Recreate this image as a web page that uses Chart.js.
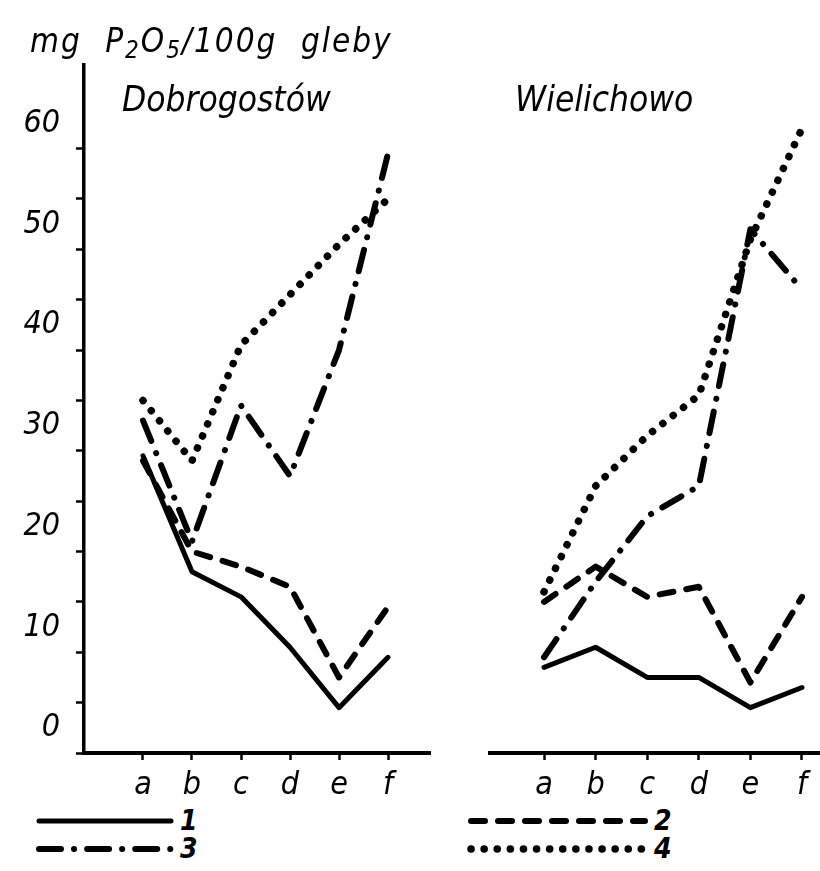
<!DOCTYPE html>
<html lang="pl">
<head>
  <meta charset="UTF-8">
  <title>P2O5 - Dobrogostów, Wielichowo</title>
  <script src="https://cdn.jsdelivr.net/npm/chart.js"></script>
  <style>
    body { margin: 0; background: #fff; }
    .page {
      position: relative;
      width: 820px;
      height: 871px;
      overflow: hidden;
      font-family: 'DejaVu Sans Condensed', 'DejaVu Sans', sans-serif;
      font-style: italic;
      color: #000;
    }
    .page canvas { position: absolute; top: 0; }
    #leftChart { left: 0; }
    #rightChart { left: 440px; }
    .txt { position: absolute; white-space: nowrap; line-height: 1; }
    .unit { left: 30px; top: 24px; font-size: 33px; word-spacing: 12px; letter-spacing: 2px; }
    .unit sub { font-size: 24px; vertical-align: -6px; }
    .panel { top: 82px; font-size: 35px; }
    .legend { position: absolute; display: flex; align-items: center; font-size: 28px; font-weight: bold; line-height: 1; }
    .legend svg { display: block; margin-right: 4px; }
  </style>
</head>
<body>
<div class="page">
  <canvas id="leftChart" width="440" height="800"></canvas>
  <canvas id="rightChart" width="380" height="800"></canvas>

  <div class="txt unit">mg P<sub>2</sub>O<sub>5</sub>/100g gleby</div>
  <div class="txt panel" style="left:122px">Dobrogostów</div>
  <div class="txt panel" style="left:515px">Wielichowo</div>

  <div id="legendBox"></div>
</div>

<script>
  // categories and tick labels
  const categories = ['a', 'b', 'c', 'd', 'e', 'f'];
  const yTickLabels = [0, 10, 20, 30, 40, 50, 60];
  const seriesNames = ['1', '2', '3', '4'];

  // Dobrogostów (mg P2O5 / 100 g gleby)
  const dobro1 = [29.5, 18, 15.5, 10.5, 4.5, 9.5];
  const dobro2 = [29, 20, 18.5, 16.5, 7.5, 14.5];
  const dobro3 = [33, 21, 34.5, 27.5, 40, 59.5];
  const dobro4 = [35, 29, 40.5, 45.5, 50.5, 55];

  // Wielichowo
  const wiel1 = [8.5, 10.5, 7.5, 7.5, 4.5, 6.5];
  const wiel2 = [15, 18.5, 15.5, 16.5, 7, 15.5];
  const wiel3 = [9.5, 17, 23.5, 26.5, 52, 46];
  const wiel4 = [16, 26.5, 31.5, 35.5, 51, 62];

  // line looks: solid, dashed, dash-dot, dotted
  const lineStyles = [
    { dash: [], width: 5 },
    { dash: [14, 13], width: 6 },
    { dash: [22, 13, 0.1, 13], width: 6 },
    { dash: [0.1, 13], width: 7.5 }
  ];

  const tickFont = { family: "'DejaVu Sans Condensed', 'DejaVu Sans', sans-serif", style: 'italic', size: 32 };

  function buildDatasets(series) {
    return series.map((vals, i) => ({
      label: seriesNames[i],
      data: vals.map((v, j) => ({ x: j + 1, y: v })),
      borderColor: '#000',
      borderWidth: lineStyles[i].width,
      borderDash: lineStyles[i].dash,
      borderCapStyle: 'round',
      borderJoinStyle: 'round',
      pointRadius: 0,
      tension: 0,
      fill: false
    }));
  }

  function xScale(min, max) {
    return {
      type: 'linear',
      min: min,
      max: max,
      afterBuildTicks: s => { s.ticks = categories.map((c, i) => ({ value: i + 1 })); },
      afterFit: s => { s.height = 47; },
      ticks: {
        autoSkip: false,
        maxRotation: 0,
        padding: 6,
        color: '#000',
        font: tickFont,
        callback: v => categories[v - 1]
      },
      grid: { drawOnChartArea: false, drawTicks: true, tickLength: 7, tickWidth: 2.5, tickColor: '#000' },
      border: { display: true, color: '#000', width: 4 }
    };
  }

  function yScale(show) {
    return {
      display: show,
      type: 'linear',
      min: 0,
      max: 68.3,
      afterBuildTicks: s => { s.ticks = s.ticks.filter(t => t.value % 5 === 0); },
      afterFit: s => { if (show) s.width = 84; },
      ticks: {
        stepSize: 5,
        autoSkip: false,
        padding: 16,
        labelOffset: -25,
        color: '#000',
        font: tickFont,
        callback: v => yTickLabels.includes(v) ? String(v) : ''
      },
      grid: { drawOnChartArea: false, drawTicks: true, tickLength: 8, tickWidth: 2.5, tickColor: '#000' },
      border: { display: true, color: '#000', width: 3.5 }
    };
  }

  function makeChart(id, series, xMin, xMax, showY, padding) {
    new Chart(document.getElementById(id), {
      type: 'line',
      data: { datasets: buildDatasets(series) },
      options: {
        responsive: false,
        animation: false,
        layout: { padding: padding },
        scales: { x: xScale(xMin, xMax), y: yScale(showY) },
        plugins: { legend: { display: false }, tooltip: { enabled: false } }
      }
    });
  }

  makeChart('leftChart', [dobro1, dobro2, dobro3, dobro4], -0.204, 6.857, true,
    { top: 65, right: 10, bottom: 0, left: 0 });
  makeChart('rightChart', [wiel1, wiel2, wiel3, wiel4], -0.047, 6.349, false,
    { top: 65, right: 0, bottom: 0, left: 50 });

  // legend under the axes: 1 and 3 on the left, 2 and 4 on the right
  const legendSpots = [
    { left: 34, top: 807, len: 142 },
    { left: 466, top: 807, len: 184 },
    { left: 34, top: 835, len: 142 },
    { left: 466, top: 835, len: 184 }
  ];
  const legendBox = document.getElementById('legendBox');
  seriesNames.forEach((name, i) => {
    const spot = legendSpots[i];
    const st = lineStyles[i];
    const item = document.createElement('div');
    item.className = 'legend';
    item.style.left = spot.left + 'px';
    item.style.top = spot.top + 'px';
    item.innerHTML =
      `<svg width="${spot.len}" height="28"><line x1="5" y1="14" x2="${spot.len - 5}" y2="14" stroke="#000" ` +
      `stroke-width="${st.width}" stroke-linecap="round" stroke-dasharray="${st.dash.length ? st.dash.join(' ') : 'none'}"/></svg>` +
      `<span>${name}</span>`;
    legendBox.appendChild(item);
  });
</script>
</body>
</html>
